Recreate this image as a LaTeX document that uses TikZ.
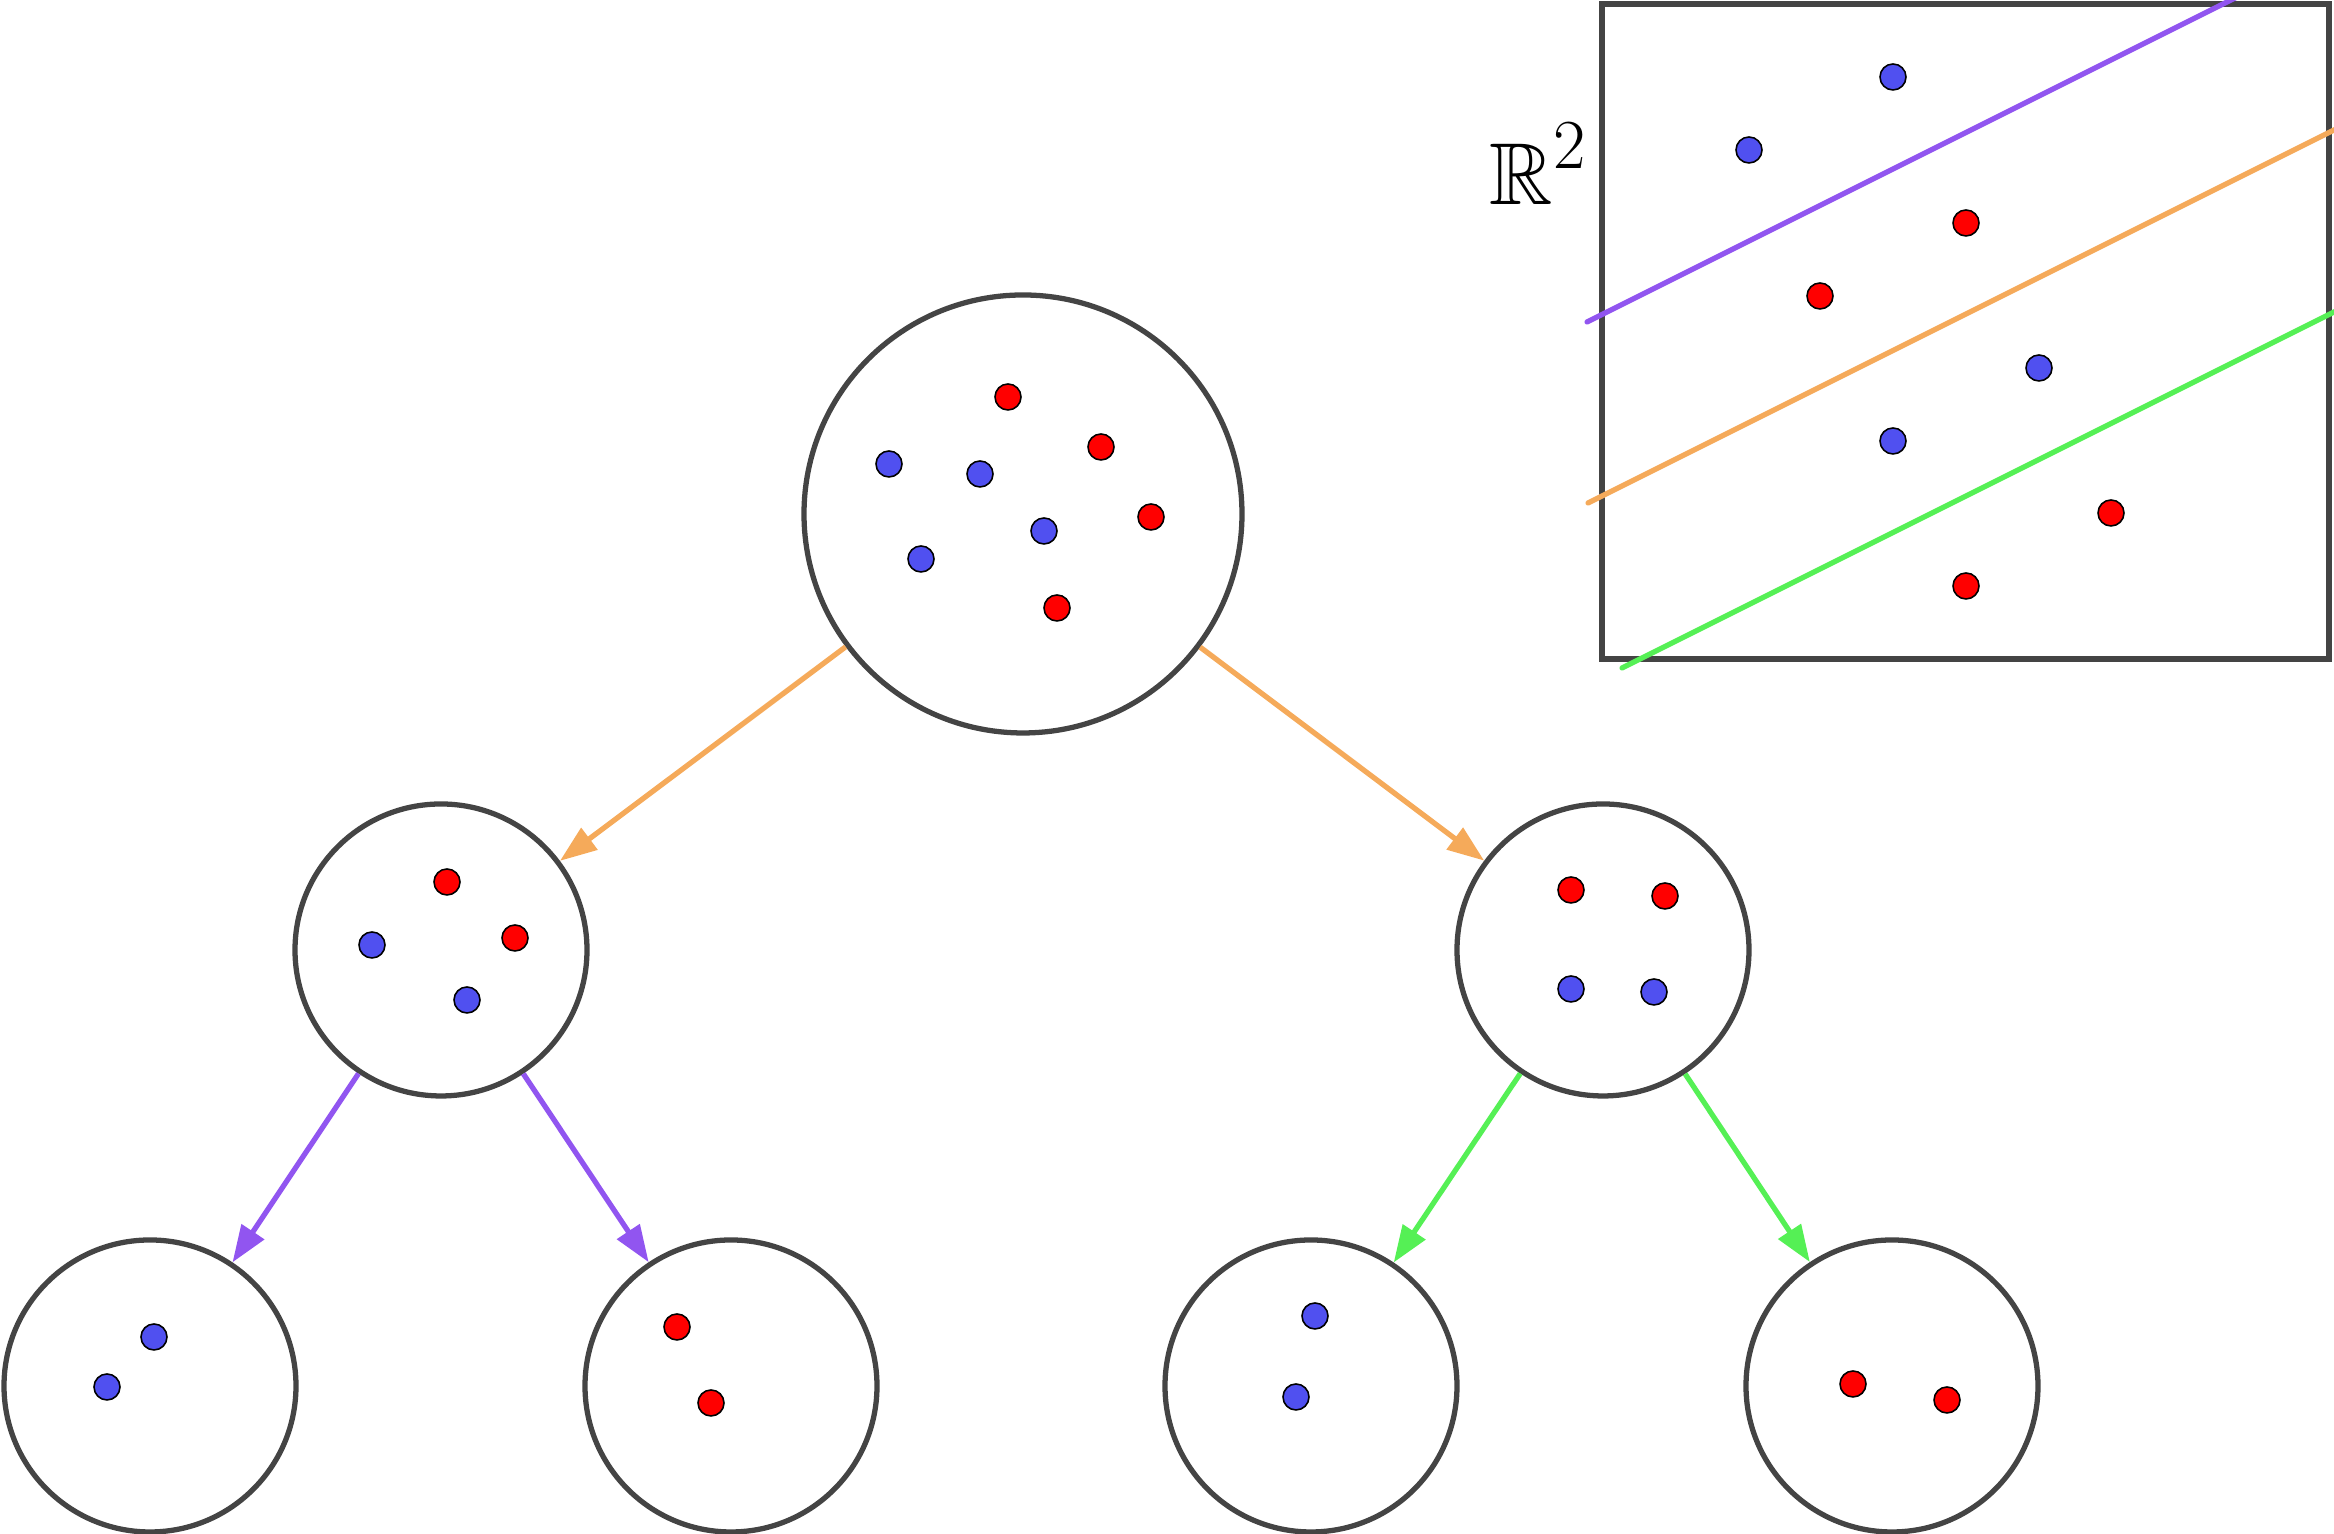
\RequirePackage{fix-cm}
\documentclass[tikz,border=0pt]{standalone}
\usepackage{amssymb}
\usetikzlibrary{arrows.meta}

\begin{document}
\begin{tikzpicture}[x=1cm,y=1cm,
  bag/.style={circle,draw=ringgray,line width=1.5pt,fill=white,inner sep=0pt},
  bigbag/.style={bag,minimum size=4.38cm},
  smallbag/.style={bag,minimum size=2.92cm},
  split/.style={line width=1.5pt,-{Triangle[length=10.5pt,width=7.5pt]}},
  cut/.style={line width=1.5pt,line cap=round}]
\useasboundingbox (0,0) rectangle (23.34,15.34);
\clip (0,0) rectangle (23.34,15.34);

\definecolor{ringgray}{RGB}{68,68,68}
\definecolor{ptblue}{RGB}{80,80,240}
\definecolor{ptred}{RGB}{255,0,0}
\definecolor{cutpurple}{RGB}{145,85,240}
\definecolor{cutorange}{RGB}{245,170,90}
\definecolor{cutgreen}{RGB}{85,240,85}

% the plane with the three cuts
\draw[ringgray,line width=1.6pt] (16.02,8.75) rectangle (23.29,15.30);
\node[anchor=base west,inner sep=0pt,font=\fontsize{25}{30}\selectfont] (plane) at (14.89,13.29)
  {$\mathbb{R}$\kern0.2pt\raisebox{10.5pt}{\fontsize{20}{24}\selectfont 2}};
\draw[cut,cutpurple] (15.87,12.12) -- ++(8,4);
\draw[cut,cutorange] (15.88,10.31) -- ++(8,4);
\draw[cut,cutgreen] (16.22,8.66) -- ++(8,4);

% tree
\node[bigbag] (root) at (10.23,10.20) {};
\node[smallbag] (left) at (4.41,5.84) {};
\node[smallbag] (right) at (16.03,5.84) {};
\node[smallbag] (leftleft) at (1.50,1.48) {};
\node[smallbag] (leftright) at (7.31,1.48) {};
\node[smallbag] (rightleft) at (13.11,1.48) {};
\node[smallbag] (rightright) at (18.92,1.48) {};

\draw[split,cutorange] (root) -- (left);
\draw[split,cutorange] (root) -- (right);
\draw[split,cutpurple] (left) -- (leftleft);
\draw[split,cutpurple] (left) -- (leftright);
\draw[split,cutgreen] (right) -- (rightleft);
\draw[split,cutgreen] (right) -- (rightright);

% points
\foreach \x/\y/\c in {
10.08/11.37/ptred,11.01/10.87/ptred,11.51/10.17/ptred,10.57/9.26/ptred,
8.89/10.70/ptblue,9.80/10.60/ptblue,10.44/10.03/ptblue,9.21/9.75/ptblue,
4.47/6.52/ptred,5.15/5.96/ptred,3.72/5.89/ptblue,4.67/5.34/ptblue,
15.71/6.44/ptred,16.65/6.38/ptred,15.71/5.45/ptblue,16.54/5.42/ptblue,
1.54/1.97/ptblue,1.07/1.47/ptblue,
6.77/2.07/ptred,7.11/1.31/ptred,
13.15/2.18/ptblue,12.96/1.37/ptblue,
18.53/1.50/ptred,19.47/1.34/ptred,
18.93/14.57/ptblue,17.49/13.84/ptblue,19.66/13.11/ptred,18.20/12.38/ptred,
20.39/11.66/ptblue,18.93/10.93/ptblue,21.11/10.21/ptred,19.66/9.48/ptred}
  \filldraw[fill=\c,draw=black,line width=0.45pt] (\x,\y) circle (0.13);

\end{tikzpicture}
\end{document}
